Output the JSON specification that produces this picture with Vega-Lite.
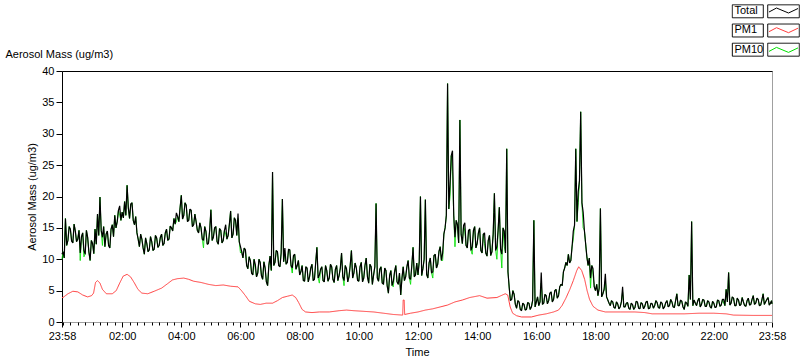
{
  "$schema": "https://vega.github.io/schema/vega-lite/v6.json",
  "autosize": "none",
  "width": 710,
  "height": 251,
  "padding": {"left": 62, "top": 71, "right": 28, "bottom": 39},
  "background": "white",
  "config": {
    "font": "Liberation Sans",
    "view": {"stroke": "#a0a0a0", "strokeWidth": 1},
    "axis": {"labelFont": "Liberation Sans", "titleFont": "Liberation Sans", "labelFontSize": 11, "titleFontSize": 11, "labelColor": "#000", "titleColor": "#000", "titleFontWeight": "normal", "grid": false, "tickColor": "#000", "domainColor": "#000"},
    "axisY": {"values": [0,5,10,15,20,25,30,35,40], "tickSize": 6, "labelPadding": 2, "titlePadding": 4, "labelOverlap": false}
  },
  "datasets": {
    "mass": [
{"t":-2,"a":10.8,"g":10.0},{"t":0,"a":11.2,"g":11.2},{"t":2.5,"a":10.2,"g":10.2},{"t":5,"a":16.5,"g":16.5},{"t":7.5,"a":12.2,"g":12.2},{"t":10,"a":13.0,"g":13.0},{"t":12.5,"a":15.2,"g":15.2},{"t":15,"a":14.8,"g":14.8},{"t":17.5,"a":12.9,"g":12.9},{"t":20,"a":12.6,"g":12.6},{"t":22.5,"a":15.6,"g":15.6},{"t":25,"a":14.5,"g":14.5},{"t":27.5,"a":12.8,"g":12.8},{"t":30,"a":13.2,"g":13.2},{"t":32.5,"a":14.6,"g":14.6},{"t":35,"a":11.0,"g":9.8},{"t":37.5,"a":13.6,"g":13.6},{"t":40,"a":14.2,"g":14.2},{"t":42.5,"a":11.4,"g":10.4},{"t":45,"a":10.8,"g":10.8},{"t":47.5,"a":14.6,"g":14.6},{"t":50,"a":13.5,"g":13.5},{"t":52.5,"a":11.2,"g":11.2},{"t":55,"a":9.8,"g":9.8},{"t":57.5,"a":13.0,"g":13.0},
{"t":60,"a":12.5,"g":12.5},{"t":62.5,"a":10.9,"g":10.9},{"t":65,"a":14.8,"g":14.8},{"t":67.5,"a":12.4,"g":12.4},{"t":70,"a":17.2,"g":17.2},{"t":72.5,"a":13.8,"g":13.8},{"t":75,"a":19.9,"g":19.9},{"t":77.5,"a":14.6,"g":14.6},{"t":80,"a":13.5,"g":12.2},{"t":82.5,"a":15.2,"g":15.2},{"t":85,"a":12.0,"g":12.0},{"t":87.5,"a":14.0,"g":14.0},{"t":90,"a":14.5,"g":14.5},{"t":92.5,"a":12.2,"g":12.2},{"t":95,"a":11.8,"g":11.8},{"t":97.5,"a":14.8,"g":14.8},{"t":100,"a":15.5,"g":15.5},{"t":102.5,"a":13.6,"g":13.6},{"t":105,"a":17.0,"g":17.0},{"t":107.5,"a":15.0,"g":15.0},{"t":110,"a":16.0,"g":16.0},{"t":112.5,"a":17.8,"g":17.8},{"t":115,"a":18.5,"g":17.0},{"t":117.5,"a":16.2,"g":16.2},
{"t":120,"a":17.5,"g":17.5},{"t":122.5,"a":16.6,"g":16.6},{"t":125,"a":19.2,"g":19.2},{"t":127.5,"a":17.0,"g":17.0},{"t":130,"a":21.8,"g":21.8},{"t":132.5,"a":18.2,"g":18.2},{"t":135,"a":16.5,"g":16.5},{"t":137.5,"a":18.8,"g":18.8},{"t":140,"a":19.0,"g":19.0},{"t":142.5,"a":16.2,"g":16.2},{"t":145,"a":15.5,"g":15.5},{"t":147.5,"a":16.8,"g":16.8},{"t":150,"a":14.2,"g":14.2},{"t":152.5,"a":13.2,"g":13.2},{"t":155,"a":12.0,"g":12.0},{"t":157.5,"a":14.0,"g":14.0},{"t":160,"a":13.2,"g":13.2},{"t":162.5,"a":11.8,"g":11.8},{"t":165,"a":10.8,"g":10.8},{"t":167.5,"a":13.4,"g":13.4},{"t":170,"a":12.5,"g":12.5},{"t":172.5,"a":11.2,"g":11.2},{"t":175,"a":11.5,"g":11.5},{"t":177.5,"a":13.6,"g":13.6},
{"t":180,"a":12.8,"g":12.8},{"t":182.5,"a":11.4,"g":11.4},{"t":185,"a":11.6,"g":11.6},{"t":187.5,"a":13.8,"g":13.8},{"t":190,"a":13.4,"g":13.4},{"t":192.5,"a":11.9,"g":11.9},{"t":195,"a":12.2,"g":12.2},{"t":197.5,"a":13.5,"g":13.5},{"t":200,"a":14.0,"g":14.0},{"t":202.5,"a":12.2,"g":12.2},{"t":205,"a":12.5,"g":12.5},{"t":207.5,"a":14.2,"g":14.2},{"t":210,"a":14.8,"g":14.8},{"t":212.5,"a":13.0,"g":13.0},{"t":215,"a":13.2,"g":13.2},{"t":217.5,"a":15.3,"g":15.3},{"t":220,"a":15.0,"g":15.0},{"t":222.5,"a":14.5,"g":14.5},{"t":225,"a":16.5,"g":16.5},{"t":227.5,"a":15.6,"g":15.6},{"t":230,"a":17.4,"g":16.0},{"t":232.5,"a":16.8,"g":16.8},{"t":235,"a":16.0,"g":16.0},{"t":237.5,"a":18.2,"g":18.2},
{"t":240,"a":20.2,"g":20.2},{"t":242.5,"a":16.4,"g":16.4},{"t":245,"a":17.0,"g":17.0},{"t":247.5,"a":19.0,"g":19.0},{"t":250,"a":18.6,"g":18.6},{"t":252.5,"a":16.0,"g":16.0},{"t":255,"a":16.2,"g":16.2},{"t":257.5,"a":18.0,"g":18.0},{"t":260,"a":17.8,"g":17.8},{"t":262.5,"a":15.2,"g":15.2},{"t":265,"a":15.5,"g":15.5},{"t":267.5,"a":17.2,"g":17.2},{"t":270,"a":16.0,"g":16.0},{"t":272.5,"a":14.6,"g":14.6},{"t":275,"a":14.2,"g":14.2},{"t":277.5,"a":15.8,"g":15.8},{"t":280,"a":15.0,"g":15.0},{"t":282.5,"a":13.2,"g":13.2},{"t":285,"a":13.0,"g":11.8},{"t":287.5,"a":15.2,"g":15.2},{"t":290,"a":14.4,"g":14.4},{"t":292.5,"a":12.4,"g":12.4},{"t":295,"a":12.5,"g":12.5},{"t":297.5,"a":14.6,"g":14.6},
{"t":300,"a":17.9,"g":17.9},{"t":302.5,"a":13.0,"g":13.0},{"t":305,"a":13.5,"g":13.5},{"t":307.5,"a":15.0,"g":15.0},{"t":310,"a":15.2,"g":15.2},{"t":312.5,"a":12.8,"g":12.8},{"t":315,"a":12.4,"g":12.4},{"t":317.5,"a":14.9,"g":14.9},{"t":320,"a":14.6,"g":14.6},{"t":322.5,"a":12.6,"g":12.6},{"t":325,"a":13.0,"g":13.0},{"t":327.5,"a":14.6,"g":14.6},{"t":330,"a":15.5,"g":14.0},{"t":332.5,"a":13.2,"g":13.2},{"t":335,"a":13.8,"g":13.8},{"t":337.5,"a":15.6,"g":15.6},{"t":340,"a":17.7,"g":17.7},{"t":342.5,"a":13.4,"g":13.4},{"t":345,"a":14.0,"g":14.0},{"t":347.5,"a":16.6,"g":16.6},{"t":350,"a":16.2,"g":16.2},{"t":352.5,"a":13.8,"g":13.8},{"t":355,"a":17.3,"g":16.5},{"t":357.5,"a":12.8,"g":12.8},
{"t":360,"a":12.0,"g":11.0},{"t":362.5,"a":11.2,"g":11.2},{"t":365,"a":10.2,"g":10.2},{"t":367.5,"a":11.8,"g":11.8},{"t":370,"a":11.5,"g":11.5},{"t":372.5,"a":9.0,"g":9.0},{"t":375,"a":8.5,"g":8.5},{"t":377.5,"a":10.4,"g":10.4},{"t":380,"a":9.8,"g":9.8},{"t":382.5,"a":7.8,"g":7.8},{"t":385,"a":7.5,"g":7.5},{"t":387.5,"a":10.0,"g":10.0},{"t":390,"a":9.2,"g":8.4},{"t":392.5,"a":7.2,"g":7.2},{"t":395,"a":7.8,"g":7.8},{"t":397.5,"a":10.0,"g":10.0},{"t":400,"a":9.5,"g":9.5},{"t":402.5,"a":7.4,"g":7.4},{"t":405,"a":6.8,"g":6.8},{"t":407.5,"a":9.6,"g":9.6},{"t":410,"a":8.6,"g":8.6},{"t":412.5,"a":6.4,"g":6.4},{"t":415,"a":5.8,"g":5.8},{"t":417.5,"a":9.0,"g":9.0},
{"t":420,"a":10.5,"g":10.5},{"t":422.5,"a":8.2,"g":8.2},{"t":425,"a":23.9,"g":23.9},{"t":427.5,"a":9.0,"g":9.0},{"t":430,"a":9.5,"g":9.5},{"t":432.5,"a":11.4,"g":11.4},{"t":435,"a":11.2,"g":11.2},{"t":437.5,"a":9.0,"g":9.0},{"t":440,"a":8.8,"g":8.8},{"t":442.5,"a":11.0,"g":11.0},{"t":445,"a":19.6,"g":19.6},{"t":447.5,"a":9.6,"g":9.6},{"t":450,"a":11.8,"g":10.8},{"t":452.5,"a":9.2,"g":9.2},{"t":455,"a":9.5,"g":9.5},{"t":457.5,"a":11.6,"g":11.6},{"t":460,"a":11.5,"g":11.5},{"t":462.5,"a":9.0,"g":9.0},{"t":465,"a":8.6,"g":7.8},{"t":467.5,"a":10.6,"g":10.6},{"t":470,"a":10.8,"g":10.8},{"t":472.5,"a":8.4,"g":8.4},{"t":475,"a":9.0,"g":9.0},{"t":477.5,"a":9.8,"g":9.8},
{"t":480,"a":7.5,"g":7.5},{"t":482.5,"a":8.0,"g":8.0},{"t":485,"a":9.0,"g":9.0},{"t":487.5,"a":6.6,"g":6.6},{"t":490,"a":6.5,"g":6.5},{"t":492.5,"a":8.8,"g":8.8},{"t":495,"a":8.6,"g":8.6},{"t":497.5,"a":6.4,"g":6.4},{"t":500,"a":7.2,"g":7.2},{"t":502.5,"a":8.6,"g":8.6},{"t":505,"a":9.2,"g":9.2},{"t":507.5,"a":6.6,"g":6.6},{"t":510,"a":6.8,"g":6.8},{"t":512.5,"a":9.4,"g":9.4},{"t":515,"a":11.9,"g":11.9},{"t":517.5,"a":7.0,"g":7.0},{"t":520,"a":7.5,"g":6.2},{"t":522.5,"a":8.4,"g":8.4},{"t":525,"a":8.8,"g":8.8},{"t":527.5,"a":6.6,"g":6.6},{"t":530,"a":6.4,"g":6.4},{"t":532.5,"a":9.0,"g":9.0},{"t":535,"a":8.2,"g":8.2},{"t":537.5,"a":6.5,"g":6.5},
{"t":540,"a":7.0,"g":7.0},{"t":542.5,"a":9.2,"g":9.2},{"t":545,"a":8.8,"g":8.8},{"t":547.5,"a":6.8,"g":6.8},{"t":550,"a":6.3,"g":6.3},{"t":552.5,"a":8.4,"g":8.4},{"t":555,"a":9.0,"g":9.0},{"t":557.5,"a":6.6,"g":6.6},{"t":560,"a":7.4,"g":7.4},{"t":562.5,"a":8.6,"g":8.6},{"t":565,"a":11.0,"g":11.0},{"t":567.5,"a":7.2,"g":7.2},{"t":570,"a":6.6,"g":5.8},{"t":572.5,"a":9.0,"g":9.0},{"t":575,"a":8.5,"g":8.5},{"t":577.5,"a":6.4,"g":6.4},{"t":580,"a":7.2,"g":7.2},{"t":582.5,"a":9.0,"g":9.0},{"t":585,"a":11.4,"g":11.4},{"t":587.5,"a":7.0,"g":7.0},{"t":590,"a":7.8,"g":7.8},{"t":592.5,"a":9.4,"g":9.4},{"t":595,"a":8.6,"g":8.6},{"t":597.5,"a":6.6,"g":6.6},
{"t":600,"a":6.5,"g":6.5},{"t":602.5,"a":8.8,"g":8.8},{"t":605,"a":9.5,"g":9.5},{"t":607.5,"a":6.4,"g":6.4},{"t":610,"a":7.0,"g":7.0},{"t":612.5,"a":9.0,"g":9.0},{"t":615,"a":10.2,"g":10.2},{"t":617.5,"a":7.2,"g":7.2},{"t":620,"a":6.2,"g":6.2},{"t":622.5,"a":9.2,"g":9.2},{"t":625,"a":8.8,"g":8.8},{"t":627.5,"a":6.0,"g":6.0},{"t":630,"a":7.5,"g":7.5},{"t":632.5,"a":8.8,"g":8.8},{"t":635,"a":18.9,"g":18.9},{"t":637.5,"a":7.0,"g":7.0},{"t":640,"a":6.5,"g":6.5},{"t":642.5,"a":8.4,"g":8.4},{"t":645,"a":8.8,"g":8.8},{"t":647.5,"a":6.2,"g":6.2},{"t":650,"a":6.0,"g":6.0},{"t":652.5,"a":8.6,"g":8.6},{"t":655,"a":8.2,"g":8.2},{"t":657.5,"a":5.8,"g":5.8},
{"t":660,"a":4.6,"g":4.6},{"t":662.5,"a":7.4,"g":7.4},{"t":665,"a":8.2,"g":8.2},{"t":667.5,"a":5.8,"g":5.8},{"t":670,"a":6.5,"g":5.6},{"t":672.5,"a":8.0,"g":8.0},{"t":675,"a":9.0,"g":9.0},{"t":677.5,"a":6.4,"g":6.4},{"t":680,"a":6.0,"g":6.0},{"t":682.5,"a":7.8,"g":7.8},{"t":685,"a":4.3,"g":4.3},{"t":687.5,"a":7.0,"g":7.0},{"t":690,"a":8.8,"g":8.8},{"t":692.5,"a":6.6,"g":6.6},{"t":695,"a":7.2,"g":7.2},{"t":697.5,"a":8.8,"g":8.8},{"t":700,"a":9.8,"g":9.8},{"t":702.5,"a":7.0,"g":7.0},{"t":705,"a":6.8,"g":6.0},{"t":707.5,"a":9.0,"g":9.0},{"t":710,"a":11.9,"g":11.9},{"t":712.5,"a":7.2,"g":7.2},{"t":715,"a":7.5,"g":7.5},{"t":717.5,"a":9.4,"g":9.4},
{"t":720,"a":7.5,"g":7.5},{"t":722.5,"a":9.6,"g":9.6},{"t":725,"a":20.0,"g":20.0},{"t":727.5,"a":7.4,"g":7.4},{"t":730,"a":8.5,"g":8.5},{"t":732.5,"a":10.0,"g":10.0},{"t":735,"a":19.5,"g":19.5},{"t":737.5,"a":7.6,"g":7.6},{"t":740,"a":7.0,"g":7.0},{"t":742.5,"a":9.4,"g":9.4},{"t":745,"a":10.2,"g":10.2},{"t":747.5,"a":7.8,"g":7.8},{"t":750,"a":8.0,"g":7.0},{"t":752.5,"a":10.6,"g":10.6},{"t":755,"a":10.8,"g":10.8},{"t":757.5,"a":8.6,"g":8.6},{"t":760,"a":9.2,"g":9.2},{"t":762.5,"a":11.2,"g":11.2},{"t":765,"a":12.0,"g":12.0},{"t":767.5,"a":9.8,"g":9.8},{"t":770,"a":11.0,"g":9.8},{"t":772.5,"a":14.0,"g":14.0},{"t":775,"a":15.0,"g":15.0},{"t":777.5,"a":17.0,"g":17.0},
{"t":780,"a":38.0,"g":38.0},{"t":782.5,"a":18.0,"g":18.0},{"t":785,"a":22.0,"g":20.0},{"t":787.5,"a":26.5,"g":26.5},{"t":790,"a":27.3,"g":24.0},{"t":792.5,"a":17.0,"g":17.0},{"t":795,"a":13.5,"g":12.0},{"t":797.5,"a":16.2,"g":16.2},{"t":800,"a":15.5,"g":15.5},{"t":802.5,"a":12.6,"g":12.6},{"t":805,"a":32.2,"g":32.2},{"t":807.5,"a":14.0,"g":14.0},{"t":810,"a":12.5,"g":12.5},{"t":812.5,"a":15.4,"g":15.4},{"t":815,"a":15.8,"g":14.5},{"t":817.5,"a":12.2,"g":12.2},{"t":820,"a":11.8,"g":11.8},{"t":822.5,"a":14.6,"g":14.6},{"t":825,"a":14.8,"g":14.8},{"t":827.5,"a":11.4,"g":11.4},{"t":830,"a":12.0,"g":10.8},{"t":832.5,"a":14.6,"g":14.6},{"t":835,"a":15.2,"g":15.2},{"t":837.5,"a":11.8,"g":11.8},
{"t":840,"a":12.5,"g":12.5},{"t":842.5,"a":14.2,"g":14.2},{"t":845,"a":15.0,"g":15.0},{"t":847.5,"a":11.4,"g":11.4},{"t":850,"a":11.0,"g":11.0},{"t":852.5,"a":14.0,"g":14.0},{"t":855,"a":14.2,"g":12.5},{"t":857.5,"a":11.0,"g":11.0},{"t":860,"a":10.5,"g":10.5},{"t":862.5,"a":13.0,"g":13.0},{"t":865,"a":13.8,"g":13.8},{"t":867.5,"a":10.6,"g":10.6},{"t":870,"a":11.2,"g":11.2},{"t":872.5,"a":14.0,"g":14.0},{"t":875,"a":20.5,"g":20.5},{"t":877.5,"a":11.4,"g":11.4},{"t":880,"a":12.0,"g":10.0},{"t":882.5,"a":14.6,"g":14.6},{"t":885,"a":18.3,"g":18.3},{"t":887.5,"a":11.6,"g":11.6},{"t":890,"a":10.8,"g":8.6},{"t":892.5,"a":15.0,"g":15.0},{"t":895,"a":14.5,"g":12.0},{"t":897.5,"a":11.0,"g":11.0},
{"t":900,"a":27.6,"g":27.6},{"t":902.5,"a":8.0,"g":8.0},{"t":905,"a":5.5,"g":5.5},{"t":907.5,"a":3.4,"g":3.4},{"t":910,"a":3.6,"g":3.6},{"t":912.5,"a":5.0,"g":5.0},{"t":915,"a":4.4,"g":4.4},{"t":917.5,"a":2.8,"g":2.8},{"t":920,"a":2.2,"g":2.2},{"t":922.5,"a":3.4,"g":3.4},{"t":925,"a":3.2,"g":3.2},{"t":927.5,"a":2.0,"g":2.0},{"t":930,"a":1.8,"g":1.8},{"t":932.5,"a":3.0,"g":3.0},{"t":935,"a":2.8,"g":2.8},{"t":937.5,"a":1.9,"g":1.9},{"t":940,"a":2.0,"g":2.0},{"t":942.5,"a":3.1,"g":3.1},{"t":945,"a":3.0,"g":3.0},{"t":947.5,"a":2.0,"g":2.0},{"t":950,"a":2.4,"g":2.4},{"t":952.5,"a":3.4,"g":3.4},{"t":955,"a":16.2,"g":16.2},{"t":957.5,"a":2.4,"g":2.4},
{"t":960,"a":3.2,"g":3.2},{"t":962.5,"a":4.0,"g":4.0},{"t":965,"a":2.6,"g":2.6},{"t":967.5,"a":3.2,"g":3.2},{"t":970,"a":7.9,"g":6.2},{"t":972.5,"a":2.8,"g":2.8},{"t":975,"a":3.0,"g":3.0},{"t":977.5,"a":4.4,"g":4.4},{"t":980,"a":4.2,"g":4.2},{"t":982.5,"a":2.9,"g":2.9},{"t":985,"a":3.4,"g":3.4},{"t":987.5,"a":4.6,"g":4.6},{"t":990,"a":4.8,"g":4.8},{"t":992.5,"a":3.2,"g":3.2},{"t":995,"a":3.6,"g":3.6},{"t":997.5,"a":5.0,"g":5.0},{"t":1000,"a":5.2,"g":5.2},{"t":1002.5,"a":3.8,"g":3.8},{"t":1005,"a":4.2,"g":4.2},{"t":1007.5,"a":5.6,"g":5.6},{"t":1010,"a":6.0,"g":6.0},{"t":1012.5,"a":5.8,"g":5.8},{"t":1015,"a":8.0,"g":8.0},{"t":1017.5,"a":8.6,"g":8.6},
{"t":1020,"a":9.5,"g":9.5},{"t":1022.5,"a":9.0,"g":9.0},{"t":1025,"a":10.8,"g":10.8},{"t":1027.5,"a":9.4,"g":9.4},{"t":1030,"a":9.8,"g":9.8},{"t":1032.5,"a":12.0,"g":12.0},{"t":1035,"a":14.5,"g":13.2},{"t":1037.5,"a":15.4,"g":15.4},{"t":1040,"a":27.6,"g":27.6},{"t":1042.5,"a":16.0,"g":16.0},{"t":1045,"a":20.8,"g":19.0},{"t":1047.5,"a":22.5,"g":22.5},{"t":1050,"a":33.5,"g":33.5},{"t":1052.5,"a":19.0,"g":19.0},{"t":1055,"a":17.5,"g":15.0},{"t":1057.5,"a":14.6,"g":14.6},{"t":1060,"a":12.5,"g":12.5},{"t":1062.5,"a":10.4,"g":10.4},{"t":1065,"a":9.0,"g":9.0},{"t":1067.5,"a":10.2,"g":10.2},{"t":1070,"a":7.0,"g":5.4},{"t":1072.5,"a":9.0,"g":9.0},{"t":1075,"a":8.5,"g":7.6},{"t":1077.5,"a":5.6,"g":5.6},
{"t":1080,"a":5.0,"g":5.0},{"t":1082.5,"a":6.0,"g":6.0},{"t":1085,"a":4.2,"g":4.2},{"t":1087.5,"a":5.4,"g":5.4},{"t":1090,"a":18.1,"g":18.1},{"t":1092.5,"a":4.0,"g":4.0},{"t":1095,"a":4.5,"g":4.5},{"t":1097.5,"a":5.2,"g":5.2},{"t":1100,"a":7.7,"g":6.5},{"t":1102.5,"a":4.0,"g":4.0},{"t":1105,"a":3.5,"g":3.5},{"t":1107.5,"a":3.0,"g":3.0},{"t":1110,"a":2.6,"g":2.6},{"t":1112.5,"a":3.4,"g":3.4},{"t":1115,"a":3.2,"g":3.2},{"t":1117.5,"a":2.3,"g":2.3},{"t":1120,"a":2.2,"g":2.2},{"t":1122.5,"a":3.2,"g":3.2},{"t":1125,"a":2.9,"g":2.9},{"t":1127.5,"a":2.1,"g":2.1},{"t":1130,"a":2.4,"g":2.4},{"t":1132.5,"a":3.2,"g":3.2},{"t":1135,"a":5.6,"g":4.8},{"t":1137.5,"a":2.4,"g":2.4},
{"t":1140,"a":2.4,"g":2.4},{"t":1142.5,"a":3.0,"g":3.0},{"t":1145,"a":3.1,"g":3.1},{"t":1147.5,"a":2.2,"g":2.2},{"t":1150,"a":2.0,"g":2.0},{"t":1152.5,"a":3.0,"g":3.0},{"t":1155,"a":2.8,"g":2.8},{"t":1157.5,"a":2.0,"g":2.0},{"t":1160,"a":2.3,"g":2.3},{"t":1162.5,"a":3.3,"g":3.3},{"t":1165,"a":3.2,"g":3.2},{"t":1167.5,"a":2.2,"g":2.2},{"t":1170,"a":2.1,"g":2.1},{"t":1172.5,"a":3.1,"g":3.1},{"t":1175,"a":2.9,"g":2.9},{"t":1177.5,"a":2.1,"g":2.1},{"t":1180,"a":2.5,"g":2.5},{"t":1182.5,"a":3.2,"g":3.2},{"t":1185,"a":3.3,"g":3.3},{"t":1187.5,"a":2.1,"g":2.1},{"t":1190,"a":2.2,"g":2.2},{"t":1192.5,"a":3.0,"g":3.0},{"t":1195,"a":2.9,"g":2.9},{"t":1197.5,"a":2.2,"g":2.2},
{"t":1200,"a":2.6,"g":2.6},{"t":1202.5,"a":3.4,"g":3.4},{"t":1205,"a":3.1,"g":3.1},{"t":1207.5,"a":2.3,"g":2.3},{"t":1210,"a":2.2,"g":2.2},{"t":1212.5,"a":3.2,"g":3.2},{"t":1215,"a":3.0,"g":3.0},{"t":1217.5,"a":2.1,"g":2.1},{"t":1220,"a":2.4,"g":2.4},{"t":1222.5,"a":3.1,"g":3.1},{"t":1225,"a":3.4,"g":3.4},{"t":1227.5,"a":2.4,"g":2.4},{"t":1230,"a":2.6,"g":2.6},{"t":1232.5,"a":3.6,"g":3.6},{"t":1235,"a":3.2,"g":3.2},{"t":1237.5,"a":2.4,"g":2.4},{"t":1240,"a":2.3,"g":2.3},{"t":1242.5,"a":3.4,"g":3.4},{"t":1245,"a":4.5,"g":4.5},{"t":1247.5,"a":2.6,"g":2.6},{"t":1250,"a":2.6,"g":2.6},{"t":1252.5,"a":3.5,"g":3.5},{"t":1255,"a":3.3,"g":3.3},{"t":1257.5,"a":2.4,"g":2.4},
{"t":1260,"a":2.0,"g":2.0},{"t":1262.5,"a":3.2,"g":3.2},{"t":1265,"a":3.0,"g":3.0},{"t":1267.5,"a":2.5,"g":2.5},{"t":1270,"a":7.5,"g":7.5},{"t":1272.5,"a":3.6,"g":3.6},{"t":1275,"a":16.0,"g":16.0},{"t":1277.5,"a":2.6,"g":2.6},{"t":1280,"a":3.5,"g":3.5},{"t":1282.5,"a":3.0,"g":3.0},{"t":1285,"a":2.6,"g":2.6},{"t":1287.5,"a":3.4,"g":3.4},{"t":1290,"a":3.8,"g":3.8},{"t":1292.5,"a":2.4,"g":2.4},{"t":1295,"a":2.8,"g":2.8},{"t":1297.5,"a":3.6,"g":3.6},{"t":1300,"a":3.5,"g":3.5},{"t":1302.5,"a":2.5,"g":2.5},{"t":1305,"a":2.5,"g":2.5},{"t":1307.5,"a":3.4,"g":3.4},{"t":1310,"a":3.2,"g":3.2},{"t":1312.5,"a":2.4,"g":2.4},{"t":1315,"a":2.2,"g":2.2},{"t":1317.5,"a":3.3,"g":3.3},
{"t":1320,"a":3.0,"g":3.0},{"t":1322.5,"a":2.3,"g":2.3},{"t":1325,"a":2.4,"g":2.4},{"t":1327.5,"a":3.5,"g":3.5},{"t":1330,"a":3.4,"g":3.4},{"t":1332.5,"a":2.5,"g":2.5},{"t":1335,"a":2.7,"g":2.7},{"t":1337.5,"a":3.6,"g":3.6},{"t":1340,"a":3.6,"g":3.0},{"t":1342.5,"a":2.6,"g":2.6},{"t":1345,"a":5.2,"g":5.2},{"t":1347.5,"a":3.2,"g":3.2},{"t":1350,"a":7.9,"g":7.9},{"t":1352.5,"a":2.7,"g":2.7},{"t":1355,"a":3.0,"g":3.0},{"t":1357.5,"a":4.0,"g":4.0},{"t":1360,"a":3.8,"g":3.8},{"t":1362.5,"a":2.6,"g":2.6},{"t":1365,"a":2.6,"g":2.6},{"t":1367.5,"a":3.8,"g":3.8},{"t":1370,"a":3.5,"g":3.5},{"t":1372.5,"a":2.6,"g":2.6},{"t":1375,"a":2.8,"g":2.8},{"t":1377.5,"a":3.9,"g":3.9},
{"t":1380,"a":3.2,"g":3.2},{"t":1382.5,"a":2.6,"g":2.6},{"t":1385,"a":2.5,"g":2.5},{"t":1387.5,"a":3.4,"g":3.4},{"t":1390,"a":3.8,"g":3.8},{"t":1392.5,"a":2.7,"g":2.7},{"t":1395,"a":2.8,"g":2.8},{"t":1397.5,"a":3.6,"g":3.6},{"t":1400,"a":4.2,"g":4.2},{"t":1402.5,"a":2.8,"g":2.8},{"t":1405,"a":3.0,"g":3.0},{"t":1407.5,"a":3.8,"g":3.8},{"t":1410,"a":3.6,"g":3.6},{"t":1412.5,"a":2.6,"g":2.6},{"t":1415,"a":2.7,"g":2.7},{"t":1417.5,"a":3.5,"g":3.5},{"t":1420,"a":4.5,"g":4.5},{"t":1422.5,"a":2.8,"g":2.8},{"t":1425,"a":3.2,"g":3.2},{"t":1427.5,"a":3.6,"g":3.6},{"t":1430,"a":3.9,"g":3.9},{"t":1432.5,"a":2.7,"g":2.7},{"t":1435,"a":3.0,"g":3.0},{"t":1437,"a":3.4,"g":3.4},{"t":1438,"a":2.9,"g":2.9}
    ],
    "pm1": [
      {"t":-2,"v":3.9},{"t":0,"v":3.9},{"t":10,"v":4.5},{"t":20,"v":4.9},{"t":30,"v":4.8},{"t":40,"v":4.3},{"t":50,"v":4.0},{"t":58,"v":4.2},{"t":62,"v":4.6},{"t":66,"v":6.3},{"t":70,"v":6.6},{"t":75,"v":6.2},{"t":80,"v":5.2},{"t":88,"v":4.5},{"t":100,"v":4.5},{"t":108,"v":5.0},{"t":115,"v":6.2},{"t":122,"v":7.3},{"t":130,"v":7.6},{"t":137,"v":7.2},{"t":145,"v":6.2},{"t":152,"v":5.2},{"t":160,"v":4.6},{"t":172,"v":4.5},{"t":185,"v":4.9},{"t":200,"v":5.4},{"t":212,"v":6.1},{"t":222,"v":6.7},{"t":232,"v":6.9},{"t":245,"v":7.0},{"t":255,"v":6.8},{"t":265,"v":6.5},{"t":280,"v":6.3},{"t":295,"v":6.0},{"t":310,"v":5.8},{"t":325,"v":5.9},{"t":340,"v":5.7},{"t":355,"v":5.6},{"t":362,"v":5.0},{"t":370,"v":4.2},{"t":378,"v":3.3},{"t":390,"v":2.9},{"t":400,"v":2.8},{"t":412,"v":3.0},{"t":425,"v":3.0},{"t":435,"v":3.4},{"t":445,"v":3.9},{"t":455,"v":4.1},{"t":465,"v":4.3},{"t":472,"v":3.9},{"t":478,"v":3.1},{"t":485,"v":2.0},{"t":492,"v":1.6},{"t":505,"v":1.5},{"t":520,"v":1.6},{"t":540,"v":1.6},{"t":560,"v":1.8},{"t":575,"v":1.9},{"t":590,"v":1.8},{"t":610,"v":1.7},{"t":630,"v":1.6},{"t":650,"v":1.4},{"t":670,"v":1.2},{"t":689,"v":1.1},{"t":690,"v":3.5},{"t":692,"v":3.5},{"t":693,"v":1.2},{"t":705,"v":1.4},{"t":720,"v":1.6},{"t":735,"v":1.9},{"t":750,"v":2.1},{"t":765,"v":2.4},{"t":780,"v":2.7},{"t":795,"v":3.2},{"t":810,"v":3.5},{"t":825,"v":3.9},{"t":845,"v":4.2},{"t":860,"v":3.8},{"t":880,"v":3.9},{"t":897,"v":4.5},{"t":902,"v":4.3},{"t":907,"v":2.4},{"t":912,"v":1.4},{"t":920,"v":1.0},{"t":930,"v":0.8},{"t":950,"v":0.8},{"t":965,"v":1.1},{"t":980,"v":1.3},{"t":995,"v":1.6},{"t":1005,"v":1.9},{"t":1012,"v":2.6},{"t":1020,"v":3.8},{"t":1028,"v":5.2},{"t":1035,"v":6.6},{"t":1042,"v":8.2},{"t":1046,"v":8.8},{"t":1052,"v":8.2},{"t":1058,"v":6.8},{"t":1063,"v":5.0},{"t":1068,"v":3.6},{"t":1075,"v":2.5},{"t":1085,"v":1.9},{"t":1100,"v":1.6},{"t":1130,"v":1.6},{"t":1160,"v":1.6},{"t":1180,"v":1.5},{"t":1195,"v":1.3},{"t":1220,"v":1.3},{"t":1260,"v":1.3},{"t":1290,"v":1.4},{"t":1320,"v":1.4},{"t":1345,"v":1.3},{"t":1360,"v":1.1},{"t":1400,"v":1.05},{"t":1438,"v":1.05}
    ]
  },
  "resolve": {"axis": {"x": "independent"}},
  "layer": [
    {
      "data": {"name": "mass"},
      "mark": {"type": "line", "strokeWidth": 1, "strokeJoin": "bevel"},
      "encoding": {
        "x": {"field": "t", "type": "quantitative", "scale": {"domain": [-2, 1438], "nice": false, "zero": false},
          "axis": {"orient": "bottom", "title": "Time", "values": [-2,120,240,360,480,600,720,840,960,1080,1200,1320,1438],
            "labelExpr": "datum.value < 0 || datum.value > 1430 ? '23:58' : (datum.value < 600 ? '0' : '') + (datum.value/60) + ':00'",
            "tickSize": 5, "labelPadding": 3, "titlePadding": 5, "domainColor": "#a0a0a0", "labelOverlap": false, "labelBound": false, "labelFlush": false}},
        "y": {"field": "g", "type": "quantitative", "title": "Aerosol Mass (ug/m3)", "scale": {"domain": [0, 40], "nice": false}},
        "color": {"datum": "PM10", "type": "nominal", "scale": {"domain": ["Total", "PM1", "PM10"], "range": ["#000000", "#ff3c3c", "#00e000"]},
          "legend": {"orient": "none", "legendX": 706, "legendY": -66, "title": null, "padding": 0, "offset": 0,
            "symbolType": "M-2.9,0.3L-1.4,-0.5L1,0.5L2.9,-0.4", "symbolSize": 100, "symbolStrokeWidth": 1, "symbolOffset": 10,
            "labelAlign": "left", "labelOffset": -54.5, "labelFontSize": 11, "labelFont": "Liberation Sans", "labelColor": "#000", "rowPadding": 7.7,
            "encode": {"symbols": {"update": {"fill": {"value": "transparent"}}}}}},
        "strokeDash": {"datum": "c", "type": "nominal", "scale": {"domain": ["a", "b", "c"], "range": [[1, 0], [1, 0], [1, 0]]},
          "legend": {"orient": "none", "legendX": 694.5, "legendY": -69.2, "title": null, "padding": 0, "offset": 0,
            "symbolType": "M-3.74,-0.72H-0.3V0.72H-3.74Z M0.19,-0.72H3.7V0.72H0.19Z", "symbolSize": 324, "symbolStrokeWidth": 1, "symbolStrokeColor": "#000",
            "labelOpacity": 0, "labelFontSize": 11, "rowPadding": 1.2,
            "encode": {"symbols": {"update": {"fill": {"value": "transparent"}, "stroke": {"value": "#000"}, "strokeDash": {"value": [1, 0]}}}}}}
      }
    },
    {
      "data": {"name": "mass"},
      "mark": {"type": "line", "strokeWidth": 1.2, "strokeJoin": "bevel"},
      "encoding": {
        "x": {"field": "t", "type": "quantitative",
          "axis": {"orient": "bottom", "title": null, "labels": false, "domain": false, "tickSize": 3,
            "values": [0,15,30,45,60,75,90,105,120,135,150,165,180,195,210,225,240,255,270,285,300,315,330,345,360,375,390,405,420,435,450,465,480,495,510,525,540,555,570,585,600,615,630,645,660,675,690,705,720,735,750,765,780,795,810,825,840,855,870,885,900,915,930,945,960,975,990,1005,1020,1035,1050,1065,1080,1095,1110,1125,1140,1155,1170,1185,1200,1215,1230,1245,1260,1275,1290,1305,1320,1335,1350,1365,1380,1395,1410,1425]}},
        "y": {"field": "a", "type": "quantitative", "title": "Aerosol Mass (ug/m3)"},
        "color": {"datum": "Total", "type": "nominal"},
        "strokeDash": {"datum": "a", "type": "nominal"}
      }
    },
    {
      "data": {"name": "pm1"},
      "mark": {"type": "line", "strokeWidth": 1, "strokeJoin": "bevel"},
      "encoding": {
        "x": {"field": "t", "type": "quantitative",
          "axis": {"orient": "top", "title": "Aerosol Mass (ug/m3)", "labels": false, "ticks": false, "domainColor": "#000",
            "titleX": -57, "titleY": -14, "titleAlign": "left", "titleAnchor": "start", "titleBaseline": "alphabetic", "titleAngle": 0}},
        "y": {"field": "v", "type": "quantitative", "title": "Aerosol Mass (ug/m3)"},
        "color": {"datum": "PM1", "type": "nominal"},
        "strokeDash": {"datum": "b", "type": "nominal"}
      }
    }
  ]
}
